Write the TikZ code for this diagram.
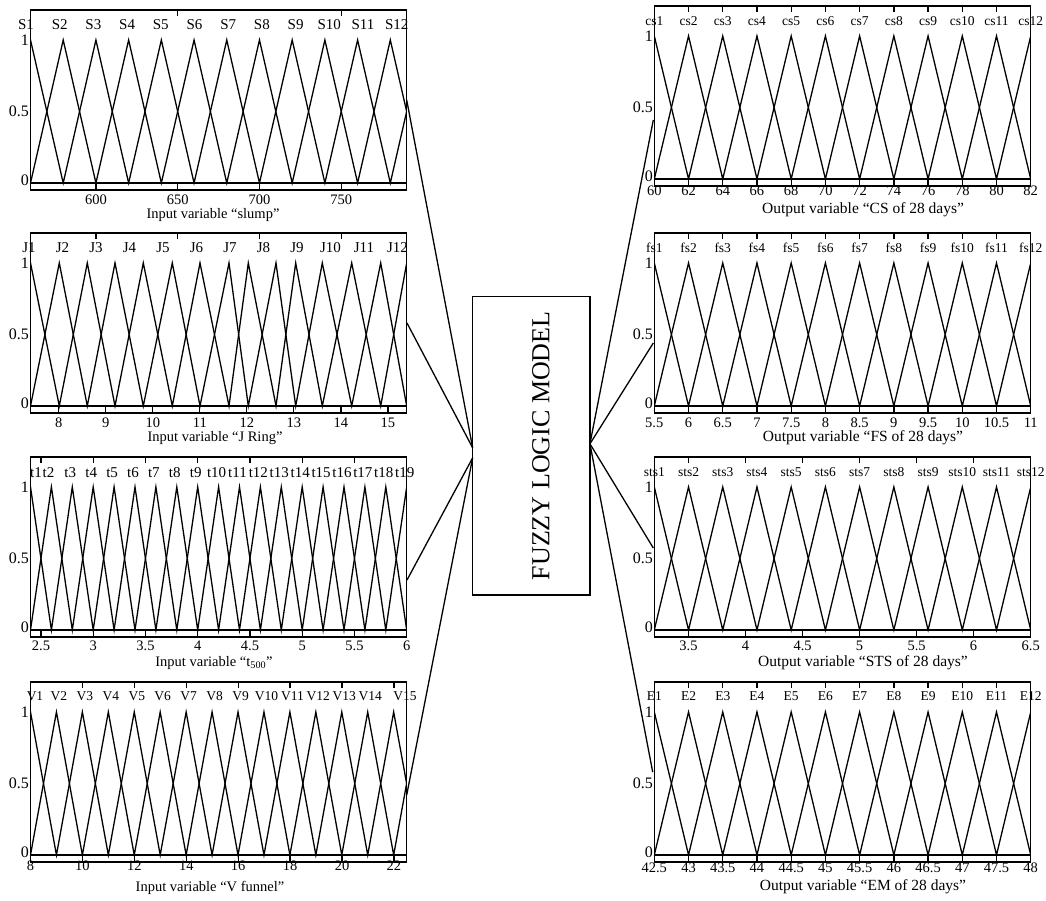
\documentclass[tikz,border=0pt]{standalone}
\usepackage{fontspec}
\setmainfont{Liberation Serif}
\usetikzlibrary{calc}
\tikzset{
  ln/.style={line width=1.3pt, line join=miter, miter limit=20},
  conn/.style={line width=1.3pt},
  tk/.style={font=\fontsize{14.5}{16}\selectfont, inner sep=0pt},
  ttl/.style={font=\fontsize{14.5}{16}\selectfont, inner sep=0pt},
  ttr/.style={font=\fontsize{15.5}{17}\selectfont, inner sep=0pt},
  mfl/.style={font=\fontsize{15}{16}\selectfont, inner sep=0pt},
  mfv/.style={font=\fontsize{13.5}{15}\selectfont, inner sep=0pt},
  mfr/.style={font=\fontsize{13.5}{15}\selectfont, inner sep=0pt},
  yl/.style={font=\fontsize{16}{18}\selectfont, inner sep=0pt, anchor=east},
  fzbox/.style={draw, line width=1.3pt, minimum width=117.3pt, minimum height=298.3pt, inner sep=0pt, outer sep=0pt},
  fztext/.style={font=\fontsize{26}{28}\selectfont, inner sep=0pt, rotate=90},
}
% uniform membership zigzags: #1 xl, #2 step, #3 count, #4 top, #5 xr
\newcommand\zigu[5]{%
  \begin{scope}
    \clip (#1,#4) rectangle (#5,{#4+180});
    \draw[ln] ({#1-#2},{#4+173}) \foreach \k in {1,...,#3} { -- ({#1+(\k-1)*#2},{#4+173-143*mod(\k,2)}) };
    \draw[ln] ({#1-#2},{#4+30}) \foreach \k in {1,...,#3} { -- ({#1+(\k-1)*#2},{#4+30+143*mod(\k,2)}) };
  \end{scope}}
% listed membership zigzags: #1 p0, #2 list, #3 top, #4 xl, #5 xr
\newcommand\zigl[5]{%
  \begin{scope}
    \clip (#4,#3) rectangle (#5,{#3+180});
    \draw[ln] (#1,{#3+173}) \foreach \x [count=\k] in {#2} { -- (\x,{#3+173-143*mod(\k,2)}) };
    \draw[ln] (#1,{#3+30}) \foreach \x [count=\k] in {#2} { -- (\x,{#3+30+143*mod(\k,2)}) };
  \end{scope}}
\newcommand\mfpanel[3]{%
  \draw[ln] (#1,#3) rectangle (#2,{#3+180});
  \draw[ln] (#1,{#3+173}) -- (#2,{#3+173});}
\newcommand\topticks[2]{\foreach \x in {#2} {\draw[ln] (\x,#1) -- (\x,{#1+6});}}
\newcommand\botticks[2]{\foreach \x in {#2} {\draw[ln] (\x,{#1+180}) -- (\x,{#1+173});}}
\newcommand\rticks[1]{\foreach \i in {2,...,11} {
  \draw[ln] ({654.3+(\i-1)*34.22},#1) -- ({654.3+(\i-1)*34.22},{#1+6});
  \draw[ln] ({654.3+(\i-1)*34.22},{#1+180}) -- ({654.3+(\i-1)*34.22},{#1+173});}}
\newcommand\ylabs[3]{%
  \node[yl, name=#1a] at (#2,{#3+30}) {1};
  \node[yl, name=#1b] at (#2,{#3+101.5}) {0.5};
  \node[yl, name=#1c] at (#2,{#3+170}) {0};}
\begin{document}
\begin{tikzpicture}[x=1pt,y=-1pt]
\useasboundingbox (0,0) rectangle (1046,900);

% ---------------- left panel 1: slump
\zigu{30.5}{32.71}{13}{10}{406.7}
\mfpanel{30.5}{406.7}{10}
\topticks{10}{177.7,341.3}
\botticks{10}{95.9,177.7,259.5,341.3}
\foreach \i in {1,...,12} \node[mfl, name=L1m\i] at ({26+(\i-1)*33.7},25) {S\i};
\foreach \x/\t [count=\i] in {95.9/600,177.7/650,259.5/700,341.3/750} \node[tk, name=L1x\i] at (\x,200) {\t};
\node[ttl, name=L1t] at (213,215) {Input variable “slump”};
\ylabs{L1y}{29}{10}

% ---------------- left panel 2: J Ring
\zigl{2.8}{30.5,59.3,87.3,115,143.3,172.3,200,229,248.3,276,295.7,322.3,351.7,380.7,406.7,435}{233}{30.5}{406.7}
\mfpanel{30.5}{406.7}{233}
\topticks{233}{95.9,177.7,259.5,341.3}
\botticks{233}{58.7,105.7,152.8,199.8,246.8,293.8,340.9,387.9}
\foreach \i in {1,...,12} \node[mfl, name=L2m\i] at ({29+(\i-1)*33.5},248) {J\i};
\foreach \x/\t [count=\i] in {58.7/8,105.7/9,152.8/10,199.8/11,246.8/12,293.8/13,340.9/14,387.9/15} \node[tk, name=L2x\i] at (\x,423) {\t};
\node[ttl, name=L2t] at (215,438) {Input variable “J Ring”};
\ylabs{L2y}{29}{233}

% ---------------- left panel 3: t500
\zigu{30.5}{20.9}{20}{457}{406.7}
\mfpanel{30.5}{406.7}{457}
\topticks{457}{41,93.2,145.5,197.7,250,302.2,354.5}
\botticks{457}{41,93.2,145.5,197.7,250,302.2,354.5}
\node[mfl, name=L3m1] at (36,473) {t1};
\node[mfl, name=L3m2] at (48.5,473) {t2};
\foreach \i in {3,...,19} \node[mfl, name=L3m\i] at ({28.5+(\i-1)*20.9},473) {t\i};
\foreach \x/\t [count=\i] in {41/2.5,93.2/3,145.5/3.5,197.7/4,250/4.5,302.2/5,354.5/5.5,406.7/6} \node[tk, name=L3x\i] at (\x,646) {\t};
\node[ttl, name=L3t] at (214,663) {Input variable “t\textsubscript{500}”};
\ylabs{L3y}{29}{457}

% ---------------- left panel 4: V funnel
\zigu{30.5}{25.94}{16}{682}{406.7}
\mfpanel{30.5}{406.7}{682}
\topticks{682}{82.4,134.3,186.3,238.2,290.1,342,393.9}
\botticks{682}{82.4,134.3,186.3,238.2,290.1,342,393.9}
\node[mfv, name=L4m1] at (35,696) {V1};
\foreach \i in {2,...,14} \node[mfv, name=L4m\i] at ({33+(\i-1)*25.94},696) {V\i};
\node[mfv, name=L4m15] at (405,696) {V15};
\foreach \x/\t [count=\i] in {30.5/8,82.4/10,134.3/12,186.3/14,238.2/16,290.1/18,342/20,393.9/22} \node[tk, name=L4x\i] at (\x,866) {\t};
\node[ttl, name=L4t] at (210,888) {Input variable “V funnel”};
\ylabs{L4y}{29}{682}

% ---------------- right panel 1: CS
\zigu{654.3}{34.22}{13}{6}{1030.7}
\mfpanel{654.3}{1030.7}{6}
\rticks{6}
\foreach \i in {1,...,12} \node[mfr, name=R1m\i] at ({654.3+(\i-1)*34.22},21) {cs\i};
\foreach \t [count=\i] in {60,62,64,66,68,70,72,74,76,78,80,82} \node[tk, name=R1x\i] at ({654.3+(\i-1)*34.22},191) {\t};
\node[ttr, name=R1t] at (863,210) {Output variable “CS of 28 days”};
\ylabs{R1y}{653}{6}

% ---------------- right panel 2: FS
\zigu{654.3}{34.22}{13}{233}{1030.7}
\mfpanel{654.3}{1030.7}{233}
\rticks{233}
\foreach \i in {1,...,12} \node[mfr, name=R2m\i] at ({654.3+(\i-1)*34.22},248) {fs\i};
\foreach \t [count=\i] in {5.5,6,6.5,7,7.5,8,8.5,9,9.5,10,10.5,11} \node[tk, name=R2x\i] at ({654.3+(\i-1)*34.22},423) {\t};
\node[ttr, name=R2t] at (863,438) {Output variable “FS of 28 days”};
\ylabs{R2y}{653}{233}

% ---------------- right panel 3: STS
\zigu{654.3}{34.22}{13}{457}{1030.7}
\mfpanel{654.3}{1030.7}{457}
\topticks{457}{688.5,745.5,802.6,859.6,916.6,973.6}
\botticks{457}{688.5,745.5,802.6,859.6,916.6,973.6}
\foreach \i in {1,...,12} \node[mfr, name=R3m\i] at ({654.3+(\i-1)*34.22},472) {sts\i};
\foreach \x/\t [count=\i] in {688.5/3.5,745.5/4,802.6/4.5,859.6/5,916.6/5.5,973.6/6,1030.7/6.5} \node[tk, name=R3x\i] at (\x,646) {\t};
\node[ttr, name=R3t] at (863,663) {Output variable “STS of 28 days”};
\ylabs{R3y}{653}{457}

% ---------------- right panel 4: EM
\zigu{654.3}{34.22}{13}{682}{1030.7}
\mfpanel{654.3}{1030.7}{682}
\rticks{682}
\foreach \i in {1,...,12} \node[mfr, name=R4m\i] at ({654.3+(\i-1)*34.22},696) {E\i};
\foreach \t [count=\i] in {42.5,43,43.5,44,44.5,45,45.5,46,46.5,47,47.5,48} \node[tk, name=R4x\i] at ({654.3+(\i-1)*34.22},868) {\t};
\node[ttr, name=R4t] at (863,887) {Output variable “EM of 28 days”};
\ylabs{R4y}{653}{682}

% ---------------- fuzzy logic model
\node[fzbox, name=fuzzy] at (531.3,445.8) {};
\node[fztext, name=fuzzytxt] at (541,445.8) {FUZZY LOGIC MODEL};

\coordinate (fzA) at ($(fuzzy.west)+(0,2)$);
\coordinate (fzB) at ($(fuzzy.west)+(0,12)$);
\coordinate (fzC) at ($(fuzzy.east)+(0,-2)$);

\coordinate (L1o) at (406.7,100);
\coordinate (L2o) at (407,323);
\coordinate (L3o) at (407,580);
\coordinate (L4o) at (406.7,795);
\coordinate (R1i) at (653.3,120);
\coordinate (R2i) at (653.3,343);
\coordinate (R3i) at (653.3,548);
\coordinate (R4i) at (652.7,772);

\draw[conn] (L1o) -- (fzA);
\draw[conn] (L2o) -- (fzA);
\draw[conn] (L3o) -- (fzB);
\draw[conn] (L4o) -- (fzB);
\draw[conn] (fzC) -- (R1i);
\draw[conn] (fzC) -- (R2i);
\draw[conn] (fzC) -- (R3i);
\draw[conn] (fzC) -- (R4i);
\end{tikzpicture}
\end{document}
